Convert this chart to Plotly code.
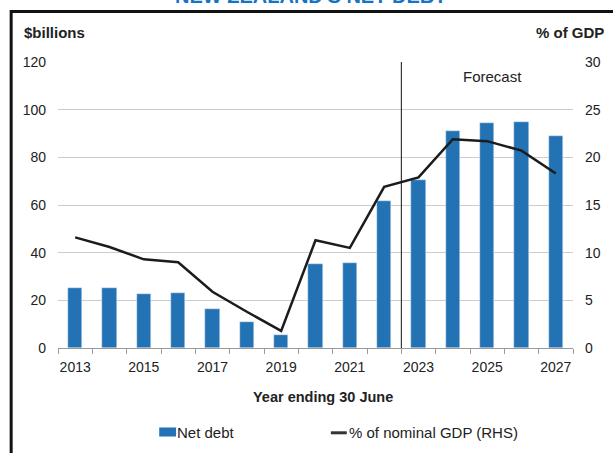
import plotly.graph_objects as go

# Fiscal years ending 30 June
years = list(range(2013, 2028))
# Core Crown net debt, $ billions (left axis)
net_debt = [25.2, 25.0, 22.7, 23.1, 16.2, 11.1, 5.3, 35.4, 35.7, 61.6,
            70.7, 90.9, 94.3, 94.9, 88.9]
# Net debt as % of nominal GDP (right axis)
pct_gdp = [11.6, 10.6, 9.3, 9.0, 5.9, 3.8, 1.8, 11.3, 10.5, 16.9,
           17.9, 21.9, 21.7, 20.7, 18.3]
label_years = [y for y in years if y % 2 == 1]
forecast_start = 2023

BLUE = "#2272b4"
LINE = "#1c1c1c"
TEXT = "#222222"
FONT = "Liberation Sans, Arial, sans-serif"

W, H = 613, 453
ML, MR, MT, MB = 58, 36, 62, 105
PW, PH = W - ML - MR, H - MT - MB


def px(xp):
    return (xp - ML) / PW


def py(yp):
    return (H - MB - yp) / PH


fig = go.Figure()
fig.add_trace(go.Bar(
    x=years, y=net_debt, name="Net debt", marker_color=BLUE,
    width=0.41, showlegend=False,
))
fig.add_trace(go.Scatter(
    x=years, y=pct_gdp, name="% of nominal GDP (RHS)", yaxis="y2",
    mode="lines", line=dict(color=LINE, width=2.5), showlegend=False,
))

boundaries = [y - 0.5 for y in years] + [years[-1] + 0.5]

fig.update_layout(
    width=W, height=H,
    margin=dict(l=ML, r=MR, t=MT, b=MB, pad=0),
    paper_bgcolor="white", plot_bgcolor="white",
    font=dict(family=FONT, size=14, color=TEXT),
    xaxis=dict(
        range=[years[0] - 0.5, years[-1] + 0.5],
        tickmode="array", tickvals=label_years,
        ticktext=[str(y) for y in label_years],
        ticks="", showgrid=False, zeroline=False,
        showline=True, linecolor="#9a9a9a", linewidth=1,
        ticklabelstandoff=6,
        minor=dict(tickmode="array", tickvals=boundaries, ticks="outside",
                   ticklen=5, tickcolor="#9a9a9a", tickwidth=1,
                   showgrid=False),
        tickfont=dict(size=14),
    ),
    yaxis=dict(
        range=[0, 120], dtick=20, showgrid=True, gridcolor="#cccccc",
        gridwidth=1, zeroline=False, showline=False, ticks="",
        ticklabelstandoff=11, tickfont=dict(size=14),
    ),
    yaxis2=dict(
        range=[0, 30], dtick=5, overlaying="y", side="right",
        showgrid=False, zeroline=False, showline=False, ticks="",
        ticklabelstandoff=11, tickfont=dict(size=14),
    ),
    bargap=0,
)

# Boundary between actuals and forecasts
fig.add_shape(type="line", xref="x", yref="y",
              x0=forecast_start - 0.5, x1=forecast_start - 0.5, y0=0, y1=120,
              line=dict(color="#111111", width=1))

# Outer frame around the chart panel
fig.add_shape(type="rect", xref="paper", yref="paper",
              x0=px(10.8), x1=px(630), y0=py(480), y1=py(11.5),
              line=dict(color="#111111", width=3), layer="above")

annotations = [
    dict(text="<b>NEW ZEALAND'S NET DEBT</b>", x=px(312), y=py(9),
         xanchor="center", yanchor="bottom",
         font=dict(size=20, color="#1574c4")),
    dict(text="<b>$billions</b>", x=px(21.5), y=py(32),
         xanchor="left", yanchor="middle", font=dict(size=15, color=TEXT)),
    dict(text="<b>% of GDP</b>", x=px(610), y=py(33),
         xanchor="right", yanchor="middle", font=dict(size=15, color=TEXT)),
    dict(text="Forecast", x=px(495.5), y=py(77),
         xanchor="center", yanchor="middle", font=dict(size=15, color=TEXT)),
    dict(text="<b>Year ending 30 June</b>", x=px(325), y=py(397),
         xanchor="center", yanchor="middle", font=dict(size=14.5, color=TEXT)),
    dict(text="Net debt", x=px(176), y=py(432.5),
         xanchor="left", yanchor="middle", font=dict(size=15, color=TEXT)),
    dict(text="% of nominal GDP (RHS)", x=px(349), y=py(433),
         xanchor="left", yanchor="middle", font=dict(size=15, color=TEXT)),
]
for a in annotations:
    a.update(xref="paper", yref="paper", showarrow=False)
fig.update_layout(annotations=annotations)

# Legend keys
fig.add_shape(type="rect", xref="paper", yref="paper",
              x0=px(160), x1=px(177), y0=py(436.5), y1=py(427.5),
              fillcolor=BLUE, line=dict(width=0))
fig.add_shape(type="line", xref="paper", yref="paper",
              x0=px(333), x1=px(349), y0=py(432.8), y1=py(432.8),
              line=dict(color="#333333", width=3))

fig.write_html("out.html")
